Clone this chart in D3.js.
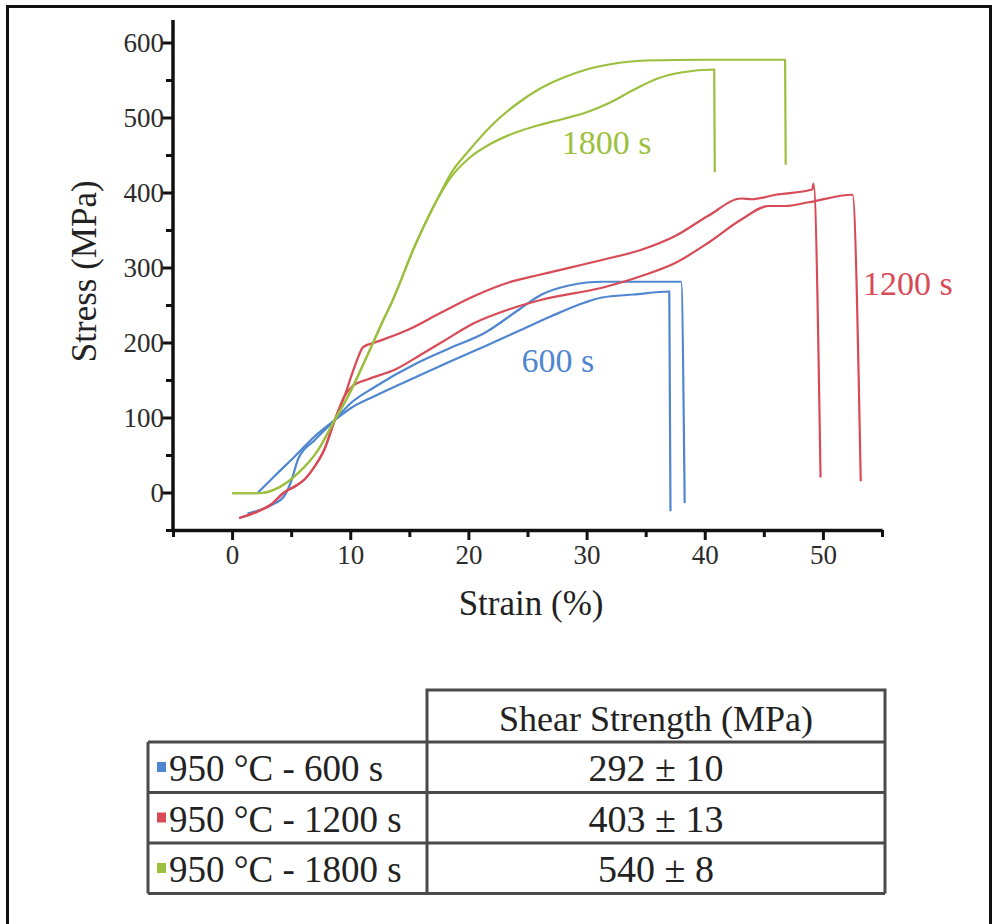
<!DOCTYPE html>
<html>
<head>
<meta charset="utf-8">
<script src="https://cdn.jsdelivr.net/npm/d3@7"></script>
<style>
  body { margin: 0; background: #fff; }
</style>
</head>
<body>
<div id="chart"></div>
<script>
// stress-strain curves, [strain %, stress MPa], two samples per condition
var curve600a = [[1.3,-28],[3.3,-17],[4.4,-5],[5.0,15],[5.6,45],[7.0,70],[8.4,92],[10.1,120],[12,140],[15.7,173],[18.5,193],[21.4,213],[24.2,243],[26.2,264],[28.5,276],[30,280],[31.3,281],[35,281],[38.0,281],[38.3,-14]];
var curve600b = [[2.2,0],[3.6,22],[5.3,48],[7.0,75],[8.4,93],[10.1,113],[12,128],[15.7,155],[18.5,175],[21.4,195],[24.2,215],[27,235],[29.8,253],[31.3,260],[34,264],[37.0,268],[37.1,-25]];

var curve1200a = [[0.6,-34],[1.9,-27],[3.3,-16],[4.4,0],[5.3,8],[6.1,17],[7.0,35],[7.8,57],[8.7,97],[9.5,128],[10.4,169],[11.1,194],[12.1,200],[14.9,217],[17.7,240],[20.5,262],[23.4,280],[26.2,291],[31.3,310],[34.7,324],[37.5,342],[40.3,369],[43.1,392],[44,391],[46.0,397],[49.1,404],[49.2,412],[49.8,20]];
var curve1200b = [[0.6,-34],[1.9,-27],[3.3,-16],[4.4,0],[5.3,8],[6.1,17],[7.0,35],[7.8,57],[8.7,97],[9.5,128],[10.2,142],[11.5,151],[13.8,164],[16.0,184],[17.7,200],[20.5,226],[23.4,244],[26.2,257],[31.3,273],[34.7,289],[37.5,306],[40.3,333],[43.1,364],[45.4,382],[46.8,382],[48.8,387],[52.5,397],[53.2,15]];

var curve1800a = [[0,-1],[2.2,-1],[3.6,4],[5.6,26],[7.3,57],[8.7,97],[9.8,128],[10.9,164],[11.8,195],[12.8,230],[13.5,253],[15.5,330],[17.4,392],[18.5,425],[20,455],[22,490],[24,517],[26,538],[28,553],[30,564],[32,571],[35,576],[40,577],[46.8,577],[46.85,437]];
var curve1800b = [[0,-1],[2.2,-1],[3.6,4],[5.6,26],[7.3,57],[8.7,97],[9.8,128],[10.9,164],[11.8,195],[12.8,230],[13.5,253],[15.5,330],[17.4,392],[18.5,420],[20,445],[22,466],[24,480],[26,490],[28,498],[30,507],[32,520],[34,537],[36,552],[38,560],[40.8,564],[40.85,427]];

var conditions = ["950 °C - 600 s", "950 °C - 1200 s", "950 °C - 1800 s"];
var curveLabels = ["600 s", "1200 s", "1800 s"];
var shearStrength = ["292 ± 10", "403 ± 13", "540 ± 8"];
var colors = ["#4f86cf", "#d84a56", "#9cbf3e"];

var xTicks = d3.range(-5, 56, 5);
var yTicks = d3.range(-50, 601, 50);

var width = 998, height = 924;
var serif = "Liberation Serif";

var svg = d3.select("#chart")
    .append("svg")
    .attr("width", width)
    .attr("height", height)
    .attr("font-family", serif);

// outer frame
svg.append("rect")
    .attr("x", 7.5).attr("y", 6.5)
    .attr("width", 983).attr("height", 930)
    .attr("fill", "none")
    .attr("stroke", "#111")
    .attr("stroke-width", 3);

// scales
var x = d3.scaleLinear().domain([-5, 55]).range([173, 882]);
var y = d3.scaleLinear().domain([-50, 630]).range([530, 20]);

var line = d3.line()
    .curve(d3.curveMonotoneX)
    .x(d => x(d[0]))
    .y(d => y(d[1]));

var curves = [
    { data: curve600a, c: 0 }, { data: curve600b, c: 0 },
    { data: curve1200a, c: 1 }, { data: curve1200b, c: 1 },
    { data: curve1800a, c: 2 }, { data: curve1800b, c: 2 }
];

svg.selectAll("path.curve")
    .data(curves)
    .enter()
    .append("path")
    .attr("class", "curve")
    .attr("d", d => line(d.data))
    .attr("fill", "none")
    .attr("stroke", d => colors[d.c])
    .attr("stroke-width", 2.2)
    .attr("stroke-linejoin", "round");

// axes
var xaxis = d3.axisBottom(x)
    .tickValues(xTicks)
    .tickFormat(d => d % 10 === 0 ? d : "")
    .tickSizeOuter(0)
    .tickPadding(9);

var yaxis = d3.axisLeft(y)
    .tickValues(yTicks)
    .tickFormat(d => d % 100 === 0 ? d : "")
    .tickSizeOuter(0)
    .tickPadding(3);

var gx = svg.append("g")
    .attr("transform", "translate(0," + y(-50) + ")")
    .call(xaxis);
gx.selectAll(".tick line").attr("y2", d => d % 10 === 0 ? 10 : 7);

var gy = svg.append("g")
    .attr("transform", "translate(" + x(-5) + ",0)")
    .call(yaxis);
gy.selectAll(".tick line").attr("x2", d => d % 100 === 0 ? -11 : -7);
gy.select(".domain").attr("d", "M0," + y(630) + "V" + y(-50));

[gx, gy].forEach(function(g) {
    g.attr("font-family", serif).attr("font-size", 27);
    g.select(".domain").attr("stroke", "#111").attr("stroke-width", 3.5);
    g.selectAll(".tick line").attr("stroke", "#111").attr("stroke-width", 3);
    g.selectAll(".tick text").attr("fill", "#2b2b2b");
});

// axis titles
svg.append("text")
    .attr("x", x(25.3))
    .attr("y", 615)
    .attr("text-anchor", "middle")
    .attr("fill", "#222")
    .attr("font-size", 35)
    .text("Strain (%)");

svg.append("text")
    .attr("transform", "translate(96," + y(295) + ") rotate(-90)")
    .attr("text-anchor", "middle")
    .attr("fill", "#222")
    .attr("font-size", 35)
    .text("Stress (MPa)");

// curve labels
var labelPos = [[24.5, 161], [53.4, 263], [27.9, 451]];
svg.selectAll("text.clabel")
    .data(curveLabels)
    .enter()
    .append("text")
    .attr("class", "clabel")
    .attr("x", (d, i) => x(labelPos[i][0]))
    .attr("y", (d, i) => y(labelPos[i][1]))
    .attr("fill", (d, i) => colors[i])
    .attr("font-size", 34)
    .text(d => d);

// table
var tLeft = 148, tMid = 427, tRight = 885;
var tTop = 690, rowTop = 742, rowH = 50.5;
var tbl = svg.append("g")
    .attr("stroke", "#4a4a4a")
    .attr("stroke-width", 3)
    .attr("fill", "none");

tbl.append("path").attr("d",
    "M" + tMid + "," + (rowTop + rowH * 3) + "V" + tTop + "H" + tRight + "V" + (rowTop + rowH * 3));
tbl.append("path").attr("d",
    "M" + tLeft + "," + rowTop + "V" + (rowTop + rowH * 3));
tbl.selectAll("line.row")
    .data(d3.range(4))
    .enter()
    .append("line")
    .attr("x1", tLeft).attr("x2", tRight)
    .attr("y1", i => rowTop + rowH * i)
    .attr("y2", i => rowTop + rowH * i);

svg.append("text")
    .attr("x", (tMid + tRight) / 2)
    .attr("y", tTop + 41)
    .attr("text-anchor", "middle")
    .attr("fill", "#222")
    .attr("font-size", 36)
    .text("Shear Strength (MPa)");

var rows = svg.selectAll("g.row")
    .data(conditions)
    .enter()
    .append("g")
    .attr("class", "row")
    .attr("transform", (d, i) => "translate(0," + (rowTop + rowH * i) + ")");

rows.append("rect")
    .attr("x", 157).attr("y", 20)
    .attr("width", 9).attr("height", 10)
    .attr("fill", (d, i) => colors[i]);

rows.append("text")
    .attr("x", 169)
    .attr("y", 39)
    .attr("fill", "#222")
    .attr("font-size", 37)
    .text(d => d);

rows.append("text")
    .attr("x", (tMid + tRight) / 2)
    .attr("y", 39)
    .attr("text-anchor", "middle")
    .attr("fill", "#222")
    .attr("font-size", 38)
    .text((d, i) => shearStrength[i]);
</script>
</body>
</html>
